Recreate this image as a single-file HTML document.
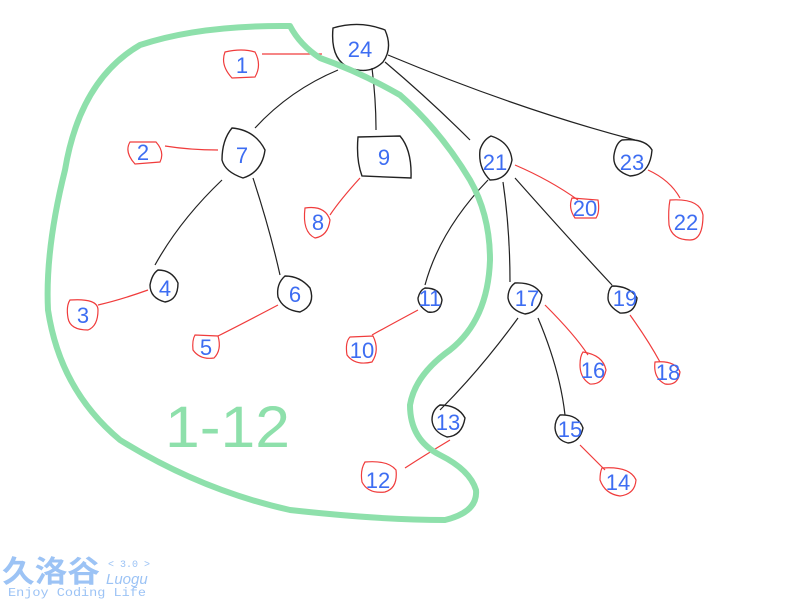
<!DOCTYPE html>
<html><head><meta charset="utf-8"><style>
html,body{margin:0;padding:0;background:#fff;width:800px;height:600px;overflow:hidden}
svg{display:block}
.n{fill:none;stroke:#222;stroke-width:1.4}
.e{fill:none;stroke:#222;stroke-width:1.2}
.r{fill:none;stroke:#f03c3c;stroke-width:1.2}
.t{fill:#3d6df2;font-family:"Liberation Sans",sans-serif;font-size:22px;text-anchor:middle}
</style></head><body>
<svg width="800" height="600" viewBox="0 0 800 600">
<g class="e">
<path d="M338,70 Q290,90 255,128"/>
<path d="M372,68 Q376,100 376,130"/>
<path d="M385,62 Q430,100 470,140"/>
<path d="M388,55 Q520,110 635,140"/>
<path d="M222,180 Q180,220 155,265"/>
<path d="M253,178 Q270,230 280,275"/>
<path d="M488,180 Q440,230 425,285"/>
<path d="M503,182 Q510,230 510,282"/>
<path d="M515,178 Q570,240 612,285"/>
<path d="M518,318 Q480,370 440,410"/>
<path d="M538,318 Q560,370 565,415"/>
</g>
<g class="n">
<path d="M333,28 Q360,20 385,30 Q393,48 383,62 Q370,75 350,68 Q330,60 333,28Z"/>
<path d="M232,128 Q255,130 265,150 Q262,172 243,178 Q225,172 222,160 Q222,140 232,128Z"/>
<path d="M358,137 L400,136 Q412,150 411,178 L362,176 Q356,160 358,137Z"/>
<path d="M491,136 Q510,142 512,160 Q508,180 490,180 Q478,168 480,150 Q483,140 491,136Z"/>
<path d="M622,140 Q645,138 652,150 Q650,175 630,176 Q612,170 614,155 Q616,143 622,140Z"/>
<path d="M158,270 Q172,270 178,283 Q178,300 165,302 Q150,298 150,285 Q152,274 158,270Z"/>
<path d="M285,276 Q300,276 310,288 Q316,305 300,312 Q283,310 278,297 Q276,284 285,276Z"/>
<path d="M425,288 Q440,288 442,300 Q440,314 428,312 Q418,306 418,298 Q420,290 425,288Z"/>
<path d="M515,283 Q535,282 542,295 Q540,312 525,314 Q510,310 508,298 Q508,288 515,283Z"/>
<path d="M612,286 Q630,286 637,298 Q635,314 620,313 Q608,306 608,298 Q608,290 612,286Z"/>
<path d="M440,405 Q458,405 465,418 Q462,436 447,437 Q433,432 432,420 Q432,410 440,405Z"/>
<path d="M560,415 Q578,414 583,428 Q580,442 568,443 Q556,440 555,428 Q555,420 560,415Z"/>
</g>
<g class="r">
<path d="M262,54 L322,54"/>
<path d="M225,52 Q242,48 255,52 Q262,65 255,77 L232,78 Q220,65 225,52Z"/>
<path d="M165,146 Q190,150 218,150"/>
<path d="M130,142 L156,142 Q165,152 160,162 L135,164 Q124,152 130,142Z"/>
<path d="M360,178 Q340,200 330,215"/>
<path d="M305,208 Q325,205 330,220 Q328,236 315,238 Q302,232 305,208Z"/>
<path d="M515,165 Q550,180 578,200"/>
<path d="M572,198 L598,200 Q600,212 596,218 L575,218 Q568,208 572,198Z"/>
<path d="M648,170 Q670,180 680,198"/>
<path d="M670,200 Q700,198 703,215 Q703,240 690,240 Q672,240 669,225 Q668,210 670,200Z"/>
<path d="M148,290 Q120,300 98,305"/>
<path d="M70,300 Q98,298 98,310 Q98,326 88,330 Q70,330 68,318 Q66,306 70,300Z"/>
<path d="M278,305 Q240,325 218,336"/>
<path d="M195,335 L218,336 Q222,350 214,358 Q200,360 193,350 Q192,340 195,335Z"/>
<path d="M418,310 Q390,325 372,335"/>
<path d="M350,337 L373,336 Q380,350 372,362 Q355,366 347,355 Q345,342 350,337Z"/>
<path d="M545,305 Q575,335 588,355"/>
<path d="M583,352 Q603,355 606,370 Q603,385 590,384 Q580,378 580,365 Q580,356 583,352Z"/>
<path d="M630,315 Q648,340 660,362"/>
<path d="M655,362 Q675,360 680,372 Q678,386 665,384 Q653,378 655,362Z"/>
<path d="M450,440 Q425,455 405,468"/>
<path d="M365,462 Q388,460 396,470 Q398,488 385,492 Q368,494 362,482 Q360,470 365,462Z"/>
<path d="M580,445 Q595,460 605,470"/>
<path d="M602,468 Q630,466 636,480 Q635,494 620,496 Q605,494 600,480 Q600,472 602,468Z"/>
</g>
<path d="M290,26 Q200,25 140,45 Q80,80 65,170 Q45,250 48,310 Q60,390 120,440 Q200,490 290,510 Q380,520 445,520 Q478,512 476,490 Q470,470 440,455 Q410,440 410,405 Q415,375 450,350 Q488,320 490,260 Q490,215 470,180 Q440,130 400,95 Q360,72 320,58 Q300,45 290,26Z" fill="none" stroke="#8ee0ab" stroke-width="6" stroke-linejoin="round"/>
<text x="165" y="447" fill="#8ee0ab" font-family="Liberation Sans,sans-serif" font-size="58" textLength="125" lengthAdjust="spacingAndGlyphs">1-12</text>
<g class="t">
<text x="360" y="57">24</text>
<text x="242" y="163">7</text>
<text x="384" y="165">9</text>
<text x="495" y="170">21</text>
<text x="632" y="170">23</text>
<text x="165" y="296">4</text>
<text x="295" y="302">6</text>
<text x="430" y="306">11</text>
<text x="527" y="306">17</text>
<text x="625" y="306">19</text>
<text x="448" y="430">13</text>
<text x="570" y="437">15</text>
<text x="242" y="73">1</text>
<text x="143" y="160">2</text>
<text x="318" y="230">8</text>
<text x="585" y="216">20</text>
<text x="686" y="230">22</text>
<text x="83" y="323">3</text>
<text x="206" y="355">5</text>
<text x="362" y="358">10</text>
<text x="593" y="378">16</text>
<text x="668" y="380">18</text>
<text x="378" y="488">12</text>
<text x="618" y="490">14</text>
</g>
<g fill="#9cc3f5" font-family="Liberation Sans,'Noto Sans CJK SC',sans-serif">
<text x="2" y="582" font-size="30" font-weight="bold" textLength="98" lengthAdjust="spacingAndGlyphs">久洛谷</text>
<text x="108" y="567" font-size="10" font-family="Liberation Mono,monospace">&lt; 3.0 &gt;</text>
<text x="106" y="584" font-size="15" font-style="italic">Luogu</text>
<text x="8" y="596" font-size="12" font-family="Liberation Mono,monospace" textLength="138" lengthAdjust="spacingAndGlyphs">Enjoy Coding Life</text>
</g>
</svg>
</body></html>
